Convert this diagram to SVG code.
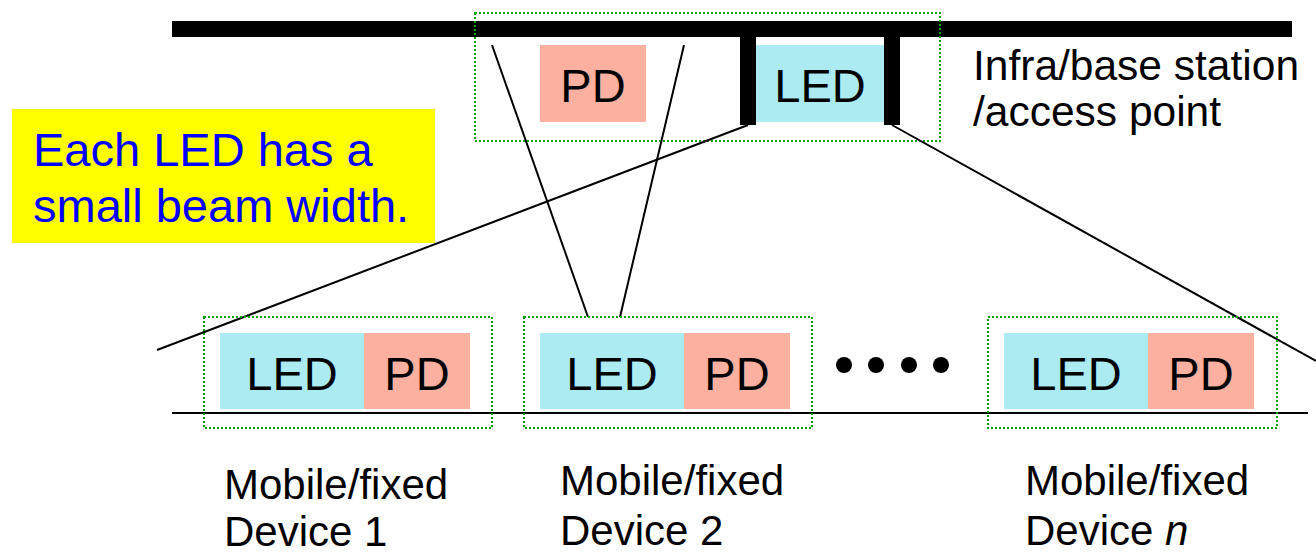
<svg xmlns="http://www.w3.org/2000/svg" width="1316" height="553" viewBox="0 0 1316 553">
<style>
  .t { font-family: "Liberation Sans", Arial, sans-serif; fill: #000; }
  .big { font-size: 47px; }
  .lbl { font-size: 42px; }
  .led { fill: #abebf1; }
  .pd { fill: #fbb0a0; }
  .dot { fill: none; stroke: #00a000; stroke-width: 2; stroke-dasharray: 2 2; }
  .ln { stroke: #000; stroke-width: 2; fill: none; }
</style>
<rect width="1316" height="553" fill="#fff"/>

<g id="base-station">
  <rect x="172" y="21" width="1120" height="16" fill="#000"/>
  <rect x="740" y="36" width="16" height="89" fill="#000"/>
  <rect x="884" y="36" width="16" height="89" fill="#000"/>
  <rect class="pd" x="540" y="45" width="106" height="77"/>
  <text class="t big" x="593" y="102" text-anchor="middle">PD</text>
  <rect class="led" x="756" y="45" width="128" height="77"/>
  <text class="t big" x="820" y="102" text-anchor="middle">LED</text>
  <rect class="dot" x="475" y="13" width="465" height="128"/>
  <text class="t" x="973" y="80" font-size="42.5">Infra/base station</text>
  <text class="t" x="973" y="126" font-size="42.5">/access point</text>
</g>

<g id="note">
  <rect x="12" y="109" width="423" height="134" fill="#ffff00"/>
  <text class="t" x="33" y="166" font-size="47" style="fill:#0000ff">Each LED has a</text>
  <text class="t" x="33" y="222" font-size="47" style="fill:#0000ff">small beam width.</text>
</g>

<g id="connectors">
  <line class="ln" x1="172" y1="413" x2="1308" y2="413" stroke-width="2.5"/>
  <line class="ln" x1="748" y1="125" x2="157" y2="350"/>
  <line class="ln" x1="892" y1="125" x2="1316" y2="361"/>
  <line class="ln" x1="492" y1="45" x2="588" y2="317"/>
  <line class="ln" x1="684" y1="45" x2="620" y2="317"/>
</g>

<g id="device-1">
  <rect class="led" x="220" y="333" width="144" height="76"/>
  <rect class="pd" x="364" y="333" width="106" height="76"/>
  <text class="t big" x="292" y="390" text-anchor="middle">LED</text>
  <text class="t big" x="417" y="390" text-anchor="middle">PD</text>
  <rect class="dot" x="204" y="317" width="288" height="111"/>
  <text class="t lbl" x="224" y="499">Mobile/fixed</text>
  <text class="t lbl" x="224" y="546">Device 1</text>
</g>

<g id="device-2">
  <rect class="led" x="540" y="333" width="144" height="76"/>
  <rect class="pd" x="684" y="333" width="106" height="76"/>
  <text class="t big" x="612" y="390" text-anchor="middle">LED</text>
  <text class="t big" x="737" y="390" text-anchor="middle">PD</text>
  <rect class="dot" x="524" y="317" width="288" height="111"/>
  <text class="t lbl" x="560" y="495">Mobile/fixed</text>
  <text class="t lbl" x="560" y="545">Device 2</text>
</g>

<g id="ellipsis">
  <circle cx="844" cy="365" r="8" fill="#000"/>
  <circle cx="876" cy="365" r="8" fill="#000"/>
  <circle cx="909" cy="365" r="8" fill="#000"/>
  <circle cx="941" cy="365" r="8" fill="#000"/>
</g>

<g id="device-n">
  <rect class="led" x="1004" y="333" width="144" height="76"/>
  <rect class="pd" x="1148" y="333" width="106" height="76"/>
  <text class="t big" x="1076" y="390" text-anchor="middle">LED</text>
  <text class="t big" x="1201" y="390" text-anchor="middle">PD</text>
  <rect class="dot" x="988" y="317" width="289" height="111"/>
  <text class="t lbl" x="1025" y="495">Mobile/fixed</text>
  <text class="t lbl" x="1025" y="545">Device <tspan font-style="italic">n</tspan></text>
</g>
</svg>
